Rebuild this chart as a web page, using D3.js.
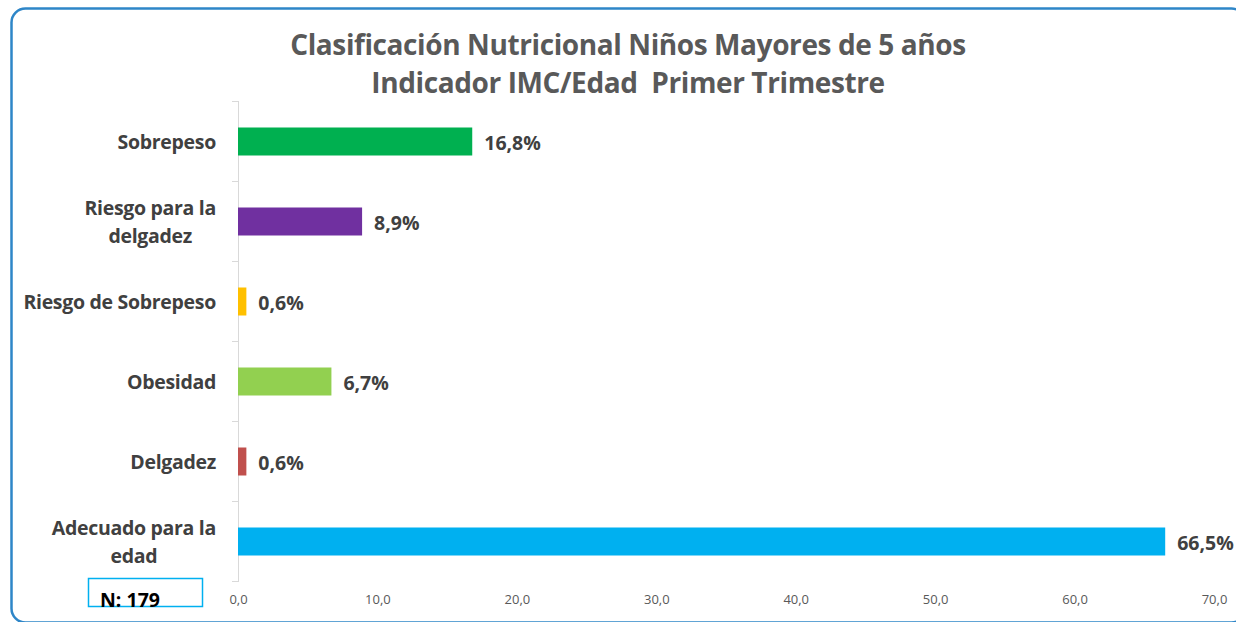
<!DOCTYPE html>
<html><head><meta charset="utf-8">
<script src="https://cdn.jsdelivr.net/npm/d3@7"></script>
<style>
html,body{margin:0;padding:0;background:#fff;overflow:hidden}
text{font-family:"Open Sans","Noto Sans",sans-serif}
</style></head>
<body><svg id="c" width="1236" height="622"></svg>
<script>
const categories = ["Sobrepeso","Riesgo para la delgadez","Riesgo de Sobrepeso","Obesidad","Delgadez","Adecuado para la edad"];
const labelLines = [["Sobrepeso"],["Riesgo para la","delgadez"],["Riesgo de Sobrepeso"],["Obesidad"],["Delgadez"],["Adecuado para la","edad"]];
const values = [16.8, 8.9, 0.6, 6.7, 0.6, 66.5];
const colors = ["#00B050","#7030A0","#FFC000","#92D050","#C0504D","#00B0F0"];
const xTicks = [0,10,20,30,40,50,60,70];
const titleLines = ["Clasificación Nutricional Niños Mayores de 5 años","Indicador IMC/Edad  Primer Trimestre"];
const nLabel = "N: 179";

const svg = d3.select("#c");
svg.append("rect").attr("x",11.5).attr("y",8.5).attr("width",1234).attr("height",614)
  .attr("rx",14).attr("fill","#fff").attr("stroke","#2E86C8").attr("stroke-width",2.5);

const x = d3.scaleLinear().domain([0,70]).range([238,1214]);
const y = d3.scaleBand().domain(categories).range([101.5,581.5]).paddingInner(0.65).paddingOuter(0.325);

// title
svg.append("g").selectAll("text").data(titleLines).join("text")
  .attr("x",628).attr("y",(d,i)=>55+i*38).attr("text-anchor","middle")
  .attr("font-size",28).attr("font-weight","bold").attr("fill","#595959")
  .attr("letter-spacing",-0.4).style("white-space","pre").text(d=>d);

// y axis line and ticks
const bounds = d3.range(categories.length+1).map(i=>101+i*y.step());
svg.append("line").attr("x1",238.5).attr("x2",238.5).attr("y1",101).attr("y2",582).attr("stroke","#D9D9D9");
svg.append("g").selectAll("line").data(bounds).join("line")
  .attr("x1",232).attr("x2",238).attr("y1",d=>Math.round(d)+0.5).attr("y2",d=>Math.round(d)+0.5).attr("stroke","#D9D9D9");

// x axis tick labels
const fmt = v => v.toFixed(1).replace(".",",");
const xa = svg.append("g").attr("transform","translate(0,582)")
  .call(d3.axisBottom(x).tickValues(xTicks).tickFormat(fmt).tickSize(0).tickPadding(13));
xa.select(".domain").remove();
xa.selectAll("text").attr("font-size",13).attr("fill","#595959").attr("font-family","\"Open Sans\",sans-serif");

// bars
svg.append("g").selectAll("rect").data(values).join("rect")
  .attr("x",x(0)).attr("y",(d,i)=>y(categories[i])).attr("width",d=>x(d)-x(0))
  .attr("height",y.bandwidth()).attr("fill",(d,i)=>colors[i]);

// value labels
svg.append("g").selectAll("text").data(values).join("text")
  .attr("x",d=>x(d)+12).attr("y",(d,i)=>y(categories[i])+y.bandwidth()/2+8)
  .attr("font-size",19.5).attr("font-weight","bold").attr("fill","#404040")
  .text(d=>fmt(d)+"%");

// category labels
const lg = svg.append("g");
categories.forEach((d,i)=>{
  const lines = labelLines[i];
  const cy = y(d)+y.bandwidth()/2;
  const lh = 28;
  const ts = lines.map((ln,j)=>lg.append("text")
    .attr("font-size",19.5).attr("font-weight","bold").attr("fill","#404040").attr("letter-spacing",-0.3)
    .attr("y", cy + 7 + (j-(lines.length-1)/2)*lh).text(ln));
  const maxW = d3.max(ts, t=>t.node().getComputedTextLength());
  ts.forEach(t=>t.attr("text-anchor","middle").attr("x",216-maxW/2));
});

// N box
svg.append("rect").attr("x",88.5).attr("y",578.5).attr("width",114).attr("height",28)
  .attr("fill","#fff").attr("stroke","#00B0F0").attr("stroke-width",1.5);
svg.append("text").attr("x",100).attr("y",607).attr("font-size",19.5).attr("font-weight","bold")
  .attr("fill","#000").text(nLabel);
</script></body></html>
